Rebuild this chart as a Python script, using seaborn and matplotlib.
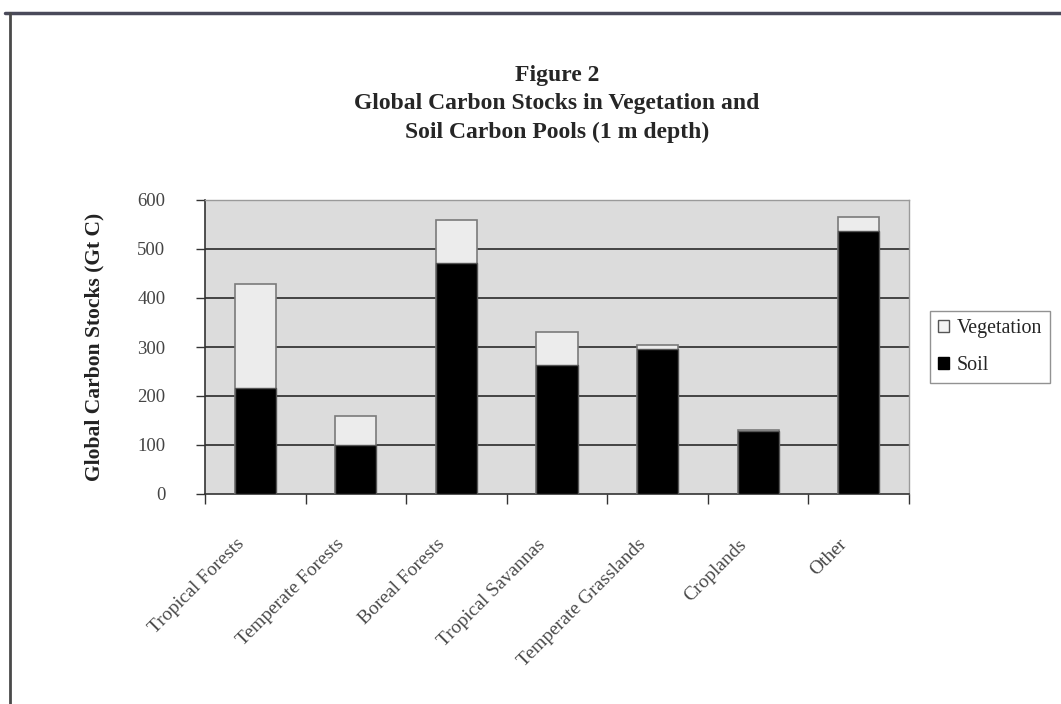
import matplotlib
matplotlib.use("Agg")
import matplotlib.pyplot as plt
from matplotlib.patches import Patch
from matplotlib.lines import Line2D
from matplotlib.transforms import ScaledTranslation
import seaborn as sns
import pandas as pd

# Carbon pools by biome (Gt C), 1 m soil depth
categories = ["Tropical Forests", "Temperate Forests", "Boreal Forests",
              "Tropical Savannas", "Temperate Grasslands", "Croplands", "Other"]
vegetation = [212, 59, 88, 66, 9, 3, 29]
soil = [216, 100, 471, 264, 295, 128, 537]
y_ticks = [0, 100, 200, 300, 400, 500, 600]

df = pd.DataFrame({"biome": categories, "vegetation": vegetation, "soil": soil})
df["total"] = df["vegetation"] + df["soil"]

sns.set_theme(style="white")
plt.rcParams["font.family"] = ["Liberation Serif", "DejaVu Serif"]

fig = plt.figure(figsize=(10.61, 7.04), dpi=100)
ax = fig.add_axes([205 / 1061, 1 - 494 / 704, 704 / 1061, 294 / 704])
ax.set_facecolor("#dcdcdc")

# Stacked bars: full height in light grey, soil drawn over it in black
sns.barplot(data=df, x="biome", y="total", ax=ax, color="#ececec",
            edgecolor="#7a7a7a", linewidth=1.2, width=0.41, saturation=1, zorder=3)
sns.barplot(data=df, x="biome", y="soil", ax=ax, color="black",
            edgecolor="#555555", linewidth=1.0, width=0.41, saturation=1, zorder=4)

ax.set_ylim(0, 600)
ax.set_xlim(-0.5, len(categories) - 0.5)
ax.set_yticks(y_ticks)
ax.set_yticklabels([str(v) for v in y_ticks], fontsize=13.5, color="#444444")
for v in y_ticks[1:-1]:
    ax.axhline(v, color="#2a2a2a", linewidth=1.2, zorder=1)

# Category labels sit under bars; tick marks fall on category boundaries
ax.set_xticks(range(len(categories)))
ax.set_xticklabels(categories, rotation=45, ha="right", va="top",
                   rotation_mode="anchor", fontsize=14, color="#4a4a4a")
ax.tick_params(axis="x", length=0, pad=30)
shift = ScaledTranslation(-0.2, 0, fig.dpi_scale_trans)
for lab in ax.get_xticklabels():
    lab.set_transform(lab.get_transform() + shift)
ax.set_xticks([i - 0.5 for i in range(len(categories) + 1)], minor=True)
ax.tick_params(axis="x", which="minor", length=7, width=1, color="#333333",
               direction="out", bottom=True)
ax.tick_params(axis="y", length=6.5, width=1, color="#333333", direction="out",
               left=True, pad=22)

ax.set_xlabel("")
ax.set_ylabel("Global Carbon Stocks (Gt C)", fontsize=15.5, fontweight="bold",
              color="#222222")
ax.yaxis.set_label_coords((104 - 205) / 704, 0.5)

for side in ["left", "bottom"]:
    ax.spines[side].set_color("#333333")
    ax.spines[side].set_linewidth(1.2)
for side in ["top", "right"]:
    ax.spines[side].set_color("#9a9a9a")
    ax.spines[side].set_linewidth(1.0)

title_lines = ["Figure 2",
               "Global Carbon Stocks in Vegetation and",
               "Soil Carbon Pools (1 m depth)"]
for i, line in enumerate(title_lines):
    fig.text(557 / 1061, 1 - (76 + 28 * i) / 704, line, ha="center",
             va="center", fontsize=17, fontweight="bold")

handles = [Patch(facecolor="#f4f4f4", edgecolor="#555555", label="Vegetation"),
           Patch(facecolor="black", edgecolor="black", label="Soil")]
leg = fig.legend(handles=handles, loc="upper left",
                 bbox_to_anchor=(930 / 1061, 1 - 311 / 704),
                 frameon=True, fancybox=False, fontsize=14.4,
                 handlelength=0.55, handleheight=0.55, handletextpad=0.4,
                 labelspacing=0.9, borderpad=0.4, borderaxespad=0)
leg.get_frame().set_edgecolor("#777777")
leg.get_frame().set_linewidth(1.0)

# Page frame lines at top and left
fig.add_artist(Line2D([5 / 1061, 1], [1 - 13 / 704, 1 - 13 / 704],
                      transform=fig.transFigure, color="#4a4a5a", linewidth=2.5))
fig.add_artist(Line2D([10 / 1061, 10 / 1061], [0, 1 - 13 / 704],
                      transform=fig.transFigure, color="#4a4a4a", linewidth=2.0))

fig.savefig("out.png", dpi=100, facecolor="white")
